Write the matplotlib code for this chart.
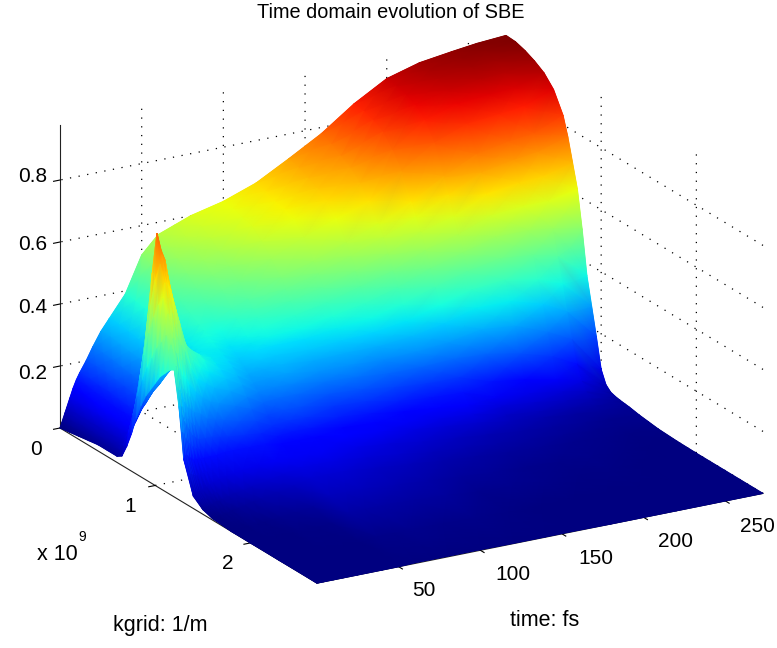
import numpy as np
import matplotlib
matplotlib.use("Agg")
import matplotlib.pyplot as plt
from matplotlib.transforms import ScaledTranslation
from mpl_toolkits.mplot3d import proj3d

plt.rcParams['font.family'] = ['Liberation Sans', 'DejaVu Sans']

title = "Time domain evolution of SBE"
k_ticks = [1, 2]
t_ticks = [50, 100, 150, 200, 250]
z_ticks = [0, 0.2, 0.4, 0.6, 0.8]
z_tick_labels = ["0", "0.2", "0.4", "0.6", "0.8"]

kgrid = [0, .1, .2, .3, .4, .5, .6, .65, .7, .75, .8, .85, .9, .95, 1.0, 1.05, 1.1, 1.15, 1.2, 1.25, 1.3, 1.4, 1.5, 1.6, 1.8, 2.0, 2.3, 2.7]
time_fs = [0, 1, 2, 3, 4, 6, 8, 10, 12, 16, 20, 25, 30, 40, 50, 60, 70, 80, 100, 120, 140, 160, 180, 200, 220, 240, 255, 273]
population = [
 [0, .005, .01, .015, .02, .02, .02, .03, .07, .12, .18, .23, .27, .30, .33, .36, .38, .40, .41, .30, .14, .04, .015, .005, 0, 0, 0, 0],
 [.015, .02, .025, .03, .03, .03, .04, .06, .11, .18, .25, .31, .36, .40, .44, .47, .50, .48, .42, .30, .15, .05, .02, .006, 0, 0, 0, 0],
 [.03, .035, .04, .04, .04, .04, .05, .08, .13, .20, .30, .39, .47, .53, .58, .61, .57, .50, .40, .27, .15, .05, .02, .006, 0, 0, 0, 0],
 [.045, .05, .05, .05, .05, .05, .06, .08, .13, .21, .33, .45, .56, .65, .71, .66, .56, .46, .35, .25, .14, .05, .02, .006, 0, 0, 0, 0],
 [.06, .06, .06, .06, .06, .06, .07, .09, .14, .22, .34, .50, .66, .80, .74, .66, .58, .45, .33, .24, .14, .05, .02, .007, 0, 0, 0, 0],
 [.09, .09, .09, .09, .085, .085, .09, .11, .15, .23, .35, .50, .64, .74, .72, .64, .52, .40, .30, .22, .13, .05, .025, .008, .001, 0, 0, 0],
 [.12, .12, .115, .11, .11, .105, .11, .13, .17, .24, .35, .48, .58, .65, .66, .60, .48, .37, .28, .20, .13, .06, .03, .01, .002, 0, 0, 0],
 [.145, .145, .14, .135, .13, .13, .13, .15, .19, .26, .35, .46, .54, .59, .60, .56, .46, .36, .27, .19, .13, .065, .03, .012, .003, 0, 0, 0],
 [.165, .165, .16, .16, .155, .15, .15, .17, .20, .27, .35, .44, .50, .54, .55, .52, .44, .34, .26, .18, .13, .07, .035, .015, .004, 0, 0, 0],
 [.20, .20, .20, .195, .19, .185, .185, .20, .23, .28, .35, .41, .45, .48, .47, .44, .38, .31, .25, .18, .13, .075, .04, .02, .005, .001, 0, 0],
 [.24, .24, .235, .23, .225, .22, .22, .23, .25, .29, .34, .39, .42, .43, .42, .39, .34, .29, .23, .18, .13, .08, .045, .025, .007, .002, 0, 0],
 [.285, .285, .28, .275, .27, .265, .26, .27, .28, .31, .34, .37, .39, .40, .39, .36, .32, .27, .22, .175, .135, .085, .05, .03, .01, .003, 0, 0],
 [.32, .32, .315, .31, .305, .30, .30, .30, .31, .32, .34, .36, .37, .38, .37, .34, .30, .26, .215, .17, .135, .09, .055, .035, .013, .004, 0, 0],
 [.39, .385, .38, .375, .37, .36, .35, .35, .35, .35, .35, .35, .35, .34, .33, .31, .28, .24, .20, .165, .135, .095, .065, .045, .018, .006, .001, 0],
 [.505, .49, .47, .45, .43, .41, .39, .38, .37, .36, .35, .34, .33, .32, .30, .28, .25, .22, .19, .16, .135, .10, .075, .055, .025, .009, .002, 0],
 [.56, .54, .52, .49, .46, .43, .39, .37, .355, .34, .33, .315, .30, .285, .265, .245, .22, .19, .165, .14, .125, .10, .085, .07, .05, .032, .01, .002],
 [.58, .565, .545, .52, .49, .46, .42, .40, .38, .36, .345, .33, .31, .29, .27, .25, .225, .195, .17, .145, .125, .10, .085, .07, .05, .033, .011, .002],
 [.60, .585, .565, .54, .51, .48, .44, .42, .40, .375, .355, .335, .315, .295, .275, .25, .225, .195, .17, .145, .125, .10, .085, .07, .05, .034, .012, .002],
 [.625, .62, .61, .60, .57, .53, .49, .46, .43, .395, .36, .335, .31, .285, .26, .235, .205, .175, .15, .125, .11, .09, .075, .06, .042, .03, .01, .002],
 [.663, .655, .64, .635, .62, .58, .52, .49, .455, .415, .38, .35, .32, .29, .26, .23, .20, .17, .14, .12, .10, .08, .065, .05, .035, .025, .008, .001],
 [.72, .71, .695, .68, .66, .62, .56, .525, .485, .445, .40, .36, .325, .29, .255, .22, .185, .15, .125, .10, .085, .065, .05, .04, .025, .015, .005, .001],
 [.78, .765, .745, .725, .695, .655, .60, .565, .52, .475, .43, .385, .34, .30, .26, .22, .175, .14, .115, .09, .075, .055, .042, .033, .02, .012, .003, .001],
 [.855, .85, .84, .82, .78, .73, .65, .61, .57, .52, .47, .42, .37, .32, .27, .225, .175, .135, .105, .085, .065, .045, .035, .025, .015, .008, .002, 0],
 [.915, .91, .90, .885, .855, .80, .71, .66, .60, .55, .50, .45, .40, .35, .29, .22, .14, .10, .08, .06, .05, .035, .028, .02, .01, .005, .001, 0],
 [.945, .94, .93, .91, .885, .84, .76, .71, .65, .59, .53, .47, .41, .35, .28, .20, .125, .09, .07, .05, .04, .028, .02, .015, .008, .004, .001, 0],
 [.96, .955, .945, .925, .895, .85, .78, .73, .665, .60, .53, .46, .39, .32, .24, .17, .105, .075, .055, .04, .03, .02, .015, .01, .005, .002, 0, 0],
 [.97, .965, .95, .93, .90, .86, .79, .74, .67, .60, .52, .44, .36, .28, .20, .13, .085, .06, .045, .032, .024, .015, .01, .007, .003, .001, 0, 0],
 [.977, .975, .965, .95, .93, .895, .83, .77, .695, .62, .50, .36, .27, .18, .085, .045, .03, .025, .022, .02, .018, .012, .008, .004, .001, 0, 0, 0],
]

W, H = 777, 648
ZMAX = 0.977
fig = plt.figure(figsize=(W / 100, H / 100), dpi=100, facecolor='white')
ax = fig.add_subplot(projection='3d', proj_type='ortho', facecolor='none')
ax.view_init(elev=20.4, azim=-30)
ax.set_box_aspect((517, 518, 325), zoom=1.0)
ax.set_xlim(0, 2.7, view_margin=0)
ax.set_ylim(0, 273, view_margin=0)
ax.set_zlim(0, ZMAX, view_margin=0)

K, T = np.meshgrid(kgrid, time_fs)
Z = np.array(population)
surf = ax.plot_surface(K, T, Z, rcount=Z.shape[0], ccount=Z.shape[1], cmap='jet',
                       vmin=0, vmax=ZMAX, shade=False, linewidth=0.35,
                       antialiased=True)
surf.set_edgecolor('face')

ax.set_xticks(k_ticks)
ax.set_yticks(t_ticks)
ax.set_zticks(z_ticks)
ax.set_zticklabels(z_tick_labels)
ax.tick_params(axis='x', labelsize=15, pad=8, colors='black')
ax.tick_params(axis='y', labelsize=15, pad=8, colors='black')
ax.tick_params(axis='z', labelsize=15, pad=8, colors='black')
ax.zaxis.set_ticks_position('lower')

for axis in (ax.xaxis, ax.yaxis, ax.zaxis):
    axis.set_pane_color((1, 1, 1, 0))
    axis.pane.set_edgecolor('none')
    axis._axinfo['grid'].update(color='black', linestyle=(0, (1, 6)), linewidth=0.9)
    axis._axinfo['tick'].update(inward_factor=0.18, outward_factor=0.0, color='#555555',
                                linewidth={True: 0.8, False: 0.8})
    axis.line.set_color('#222222')
    axis.line.set_linewidth(0.8)

# nudge tick labels (pixels, x right / y up) to where the reference has them
k_label_nudge = [(0, 10), (2, 11)]
t_label_nudge = [(11, 11), (18, 11), (20, 10), (18, 11), (18, 9)]
z_label_nudge = [(15, -16), (11, -2), (11, 2), (11, 3), (11, 9)]
for axis, nudges in ((ax.xaxis, k_label_nudge), (ax.yaxis, t_label_nudge), (ax.zaxis, z_label_nudge)):
    for tick, (dx, dy) in zip(axis.get_major_ticks(), nudges):
        shifted = ax.transData + ScaledTranslation(dx / 100, dy / 100, fig.dpi_scale_trans)
        tick.label1.get_transform = lambda t=shifted: t

# place the square axes so the floor corners land on the reference's
vl = ax.viewLim
M = ax.get_proj()
u = []
for c in [(0, 0, 0), (2.7, 0, 0)]:
    x2, y2, _ = proj3d.proj_transform(*c, M)
    u.append(((x2 - vl.x0) / vl.width, (y2 - vl.y0) / vl.height))
size = 257 / (u[1][0] - u[0][0])
left = 60 - size * u[0][0]
bottom = (H - 428) - size * u[0][1]
pos = [left / W, bottom / H, size / W, size / H]
ax.set_position(pos)

# smooth (Gouraud) shading of the same samples, far rows first, through the 3D axes' projection
overlay = fig.add_axes(pos, facecolor='none')
overlay.set_axis_off()
overlay.set_xlim(vl.x0, vl.x1)
overlay.set_ylim(vl.y0, vl.y1)
xp, yp, _ = proj3d.proj_transform(K.ravel(), T.ravel(), Z.ravel(), M)
xp = np.reshape(xp, Z.shape)
yp = np.reshape(yp, Z.shape)
overlay.pcolormesh(xp[::-1], yp[::-1], Z[::-1], shading='gouraud', cmap='jet', vmin=0, vmax=ZMAX)

def ptext(x, y, s, size=15.5):
    fig.text(x / W, 1 - y / H, s, ha='center', va='center', fontsize=size)

ptext(391, 12, title, 14.3)
ptext(160, 626, "kgrid: 1/m")
ptext(545, 621, "time: fs")
ptext(57, 555, "x 10")
ptext(82, 537, "9", 10)

fig.savefig("out.png", dpi=100)
